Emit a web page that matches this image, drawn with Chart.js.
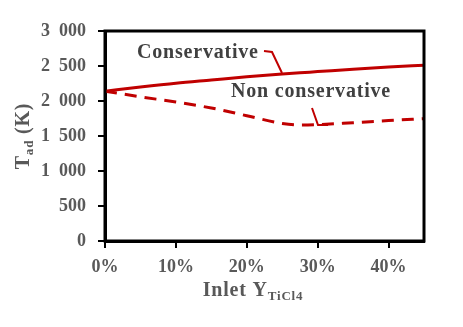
<!DOCTYPE html>
<html>
<head>
<meta charset="utf-8">
<script src="https://cdn.jsdelivr.net/npm/chart.js@4"></script>
<style>
  html, body { margin: 0; padding: 0; background: #fff; }
  #wrap { width: 463px; height: 327px; }
</style>
</head>
<body>
<div id="wrap"><canvas id="chart" width="463" height="327"></canvas></div>
<script>
// inlet TiCl4 mass fraction
const inletY = [0, 0.05, 0.10, 0.15, 0.20, 0.25, 0.275, 0.30, 0.35, 0.40, 0.45];
const conservative = [2140, 2200, 2255, 2300, 2345, 2385, 2403, 2420, 2455, 2485, 2512];
const nonConservative = [2140, 2060, 1985, 1900, 1790, 1680, 1657, 1662, 1690, 1720, 1748];
const yTicks = [0, 500, 1000, 1500, 2000, 2500, 3000];
const xTicks = [0, 0.1, 0.2, 0.3, 0.4];

const red = '#c00000';
const textGrey = '#595959';
const serif = '"Liberation Serif", "DejaVu Serif", serif';

function toPoints(xs, ys) {
    return xs.map((x, i) => ({ x: x, y: ys[i] }));
}

function fmtThousands(v) {
    // en space as the thousands separator, like the original
    return String(v).replace(/\B(?=(\d{3})+(?!\d))/g, '\u2002');
}

const boxAndLabels = {
    id: 'boxAndLabels',
    afterDraw(chart) {
        const ctx = chart.ctx;
        const a = chart.chartArea;
        ctx.save();
        // plot frame
        ctx.strokeStyle = '#000';
        ctx.lineWidth = 3;
        ctx.strokeRect(a.left, a.top, a.right - a.left, a.bottom - a.top);

        // series labels
        ctx.fillStyle = '#404040';
        ctx.font = 'bold 20px ' + serif;
        ctx.letterSpacing = '0.8px';
        ctx.textBaseline = 'alphabetic';
        ctx.textAlign = 'left';
        ctx.fillText('Conservative', 137, 58);
        ctx.fillText('Non conservative', 231, 97);
        ctx.letterSpacing = '0px';

        // leader lines
        ctx.strokeStyle = red;
        ctx.lineWidth = 2;
        ctx.beginPath();
        ctx.moveTo(264, 51);
        ctx.lineTo(272, 52);
        ctx.lineTo(282, 73);
        ctx.stroke();
        ctx.beginPath();
        ctx.moveTo(312, 108);
        ctx.lineTo(318, 125);
        ctx.lineTo(328, 125);
        ctx.stroke();

        // y axis title: T_ad (K)
        ctx.fillStyle = textGrey;
        ctx.letterSpacing = '0.8px';
        ctx.translate(29, 136);
        ctx.rotate(-Math.PI / 2);
        ctx.font = 'bold 20px ' + serif;
        const wT = ctx.measureText('T').width;
        ctx.font = 'bold 13px ' + serif;
        const wSub = ctx.measureText('ad').width;
        ctx.font = 'bold 20px ' + serif;
        const wRest = ctx.measureText(' (K)').width;
        let x0 = -(wT + wSub + wRest) / 2;
        ctx.fillText('T', x0, 0);
        ctx.font = 'bold 13px ' + serif;
        ctx.fillText('ad', x0 + wT, 4);
        ctx.font = 'bold 20px ' + serif;
        ctx.fillText(' (K)', x0 + wT + wSub, 0);
        ctx.setTransform(1, 0, 0, 1, 0, 0);

        // x axis title: Inlet Y_TiCl4
        ctx.font = 'bold 20px ' + serif;
        const w1 = ctx.measureText('Inlet Y').width;
        ctx.font = 'bold 13px ' + serif;
        const w2 = ctx.measureText('TiCl4').width;
        let xs = 253 - (w1 + w2) / 2;
        ctx.font = 'bold 20px ' + serif;
        ctx.fillText('Inlet Y', xs, 296);
        ctx.font = 'bold 13px ' + serif;
        ctx.fillText('TiCl4', xs + w1, 300);
        ctx.restore();
    }
};

new Chart(document.getElementById('chart'), {
    type: 'line',
    data: {
        datasets: [
            {
                label: 'Conservative',
                data: toPoints(inletY, conservative),
                borderColor: red,
                borderWidth: 3,
                pointRadius: 0,
                cubicInterpolationMode: 'monotone',
                fill: false
            },
            {
                label: 'Non conservative',
                data: toPoints(inletY, nonConservative),
                borderColor: red,
                borderWidth: 3,
                borderDash: [12, 8],
                pointRadius: 0,
                cubicInterpolationMode: 'monotone',
                fill: false
            }
        ]
    },
    options: {
        responsive: false,
        animation: false,
        layout: { padding: { top: 31, right: 39, left: 0, bottom: 0 } },
        plugins: {
            legend: { display: false },
            tooltip: { enabled: false }
        },
        scales: {
            x: {
                type: 'linear',
                min: 0,
                max: 0.45,
                afterBuildTicks: (scale) => { scale.ticks = xTicks.map(v => ({ value: v })); },
                afterFit: (scale) => { scale.height = 86; },
                grid: { display: true, drawOnChartArea: false, drawTicks: true, tickLength: 7, color: '#000', lineWidth: 2 },
                border: { display: true, color: '#000', width: 3 },
                ticks: {
                    color: textGrey,
                    padding: 9,
                    maxRotation: 0,
                    font: { family: serif, size: 18, weight: 'bold' },
                    callback: (v) => Math.round(v * 100) + '%'
                }
            },
            y: {
                min: 0,
                max: 3000,
                afterBuildTicks: (scale) => { scale.ticks = yTicks.map(v => ({ value: v })); },
                afterFit: (scale) => { scale.width = 105; },
                grid: { display: true, drawOnChartArea: false, drawTicks: true, tickLength: 7, color: '#000', lineWidth: 2 },
                border: { display: true, color: '#000', width: 3 },
                ticks: {
                    color: textGrey,
                    padding: 12,
                    font: { family: serif, size: 18, weight: 'bold' },
                    callback: (v) => fmtThousands(v)
                }
            }
        }
    },
    plugins: [boxAndLabels]
});
</script>
</body>
</html>
